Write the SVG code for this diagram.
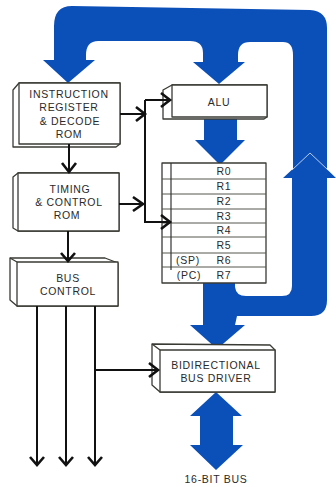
<svg xmlns="http://www.w3.org/2000/svg" width="336" height="487" viewBox="0 0 336 487">
<style>
.b{fill:#0b50b8;stroke:none}
.n{fill:#fff;stroke:#3a3a34;stroke-width:1.3;stroke-linejoin:round}
.c{fill:none;stroke:#111;stroke-width:2}
.h{fill:none;stroke:#111;stroke-width:2.6}
.r{fill:none;stroke:#55554e;stroke-width:1}
text{font-family:"Liberation Sans",Arial,sans-serif;font-size:10.5px;fill:#2a2a2a;text-anchor:middle;letter-spacing:.7px}
</style>
<rect width="336" height="487" fill="#fff"/>
<g id="buses">
<path class="b" d="M54 60V26Q54 6 72 6L310 10Q327 11 327 28V172H293V55Q293 42 283 42H250Q238 42 238 55V62H245L219 84L193 62H203V53Q203 41 190 41H100Q86 40 86 55V60H95L68 83L43 60Z"/>
<path class="b" d="M204 118H237V140H245L220 165L195 140H204Z"/>
<path class="b" d="M283 178L310 153L336 178H327V300Q327 316 311 316H237L235 325H245L217 349L190 325H203V283H235V287Q236 296 246 296H282Q292 296 292 286V178Z" stroke="#fff" style="stroke:none"/>
<path d="M292 170L310 153L328 170" fill="none" stroke="#fff" stroke-width="1" opacity=".7"/>
<path class="b" d="M216 392L242 416H233V445H243L216 470L190 445H200V416H190Z"/>
</g>
<g id="instruction-register">
<path class="n" d="M19 83L13 90V147H116L120 144V83Z"/>
<path class="n" d="M19 83H120V144H19Z"/>
<text x="69" y="98">INSTRUCTION</text>
<text x="69" y="111">REGISTER</text>
<text x="70" y="125">&amp; DECODE</text>
<text x="69" y="138">ROM</text>
</g>
<g id="alu">
<path class="n" d="M172 85L163 90V119H264L267 117V85Z"/>
<path class="n" d="M172 85H267V117H172Z"/>
<text x="219" y="106">ALU</text>
</g>
<g id="registers">
<rect class="n" x="162" y="163" width="104" height="120"/>
<path class="r" d="M162 179H266M162 194H266M162 209H266M162 223H266M162 237H266M162 253H266M162 267H266"/>
<path d="M171 163V270" stroke="#333" stroke-width="1.2"/>
<text x="224" y="175">R0</text>
<text x="224" y="190">R1</text>
<text x="224" y="205">R2</text>
<text x="224" y="220">R3</text>
<text x="224" y="234">R4</text>
<text x="224" y="249">R5</text>
<text x="224" y="264">R6</text>
<text x="224" y="279">R7</text>
<text x="188" y="264">(SP)</text>
<text x="189" y="279">(PC)</text>
</g>
<g id="timing-control">
<path class="n" d="M18 173L13 177V228L18 231H119V173Z"/>
<path class="n" d="M18 173H119V231H18Z"/>
<text x="70" y="193">TIMING</text>
<text x="69" y="206">&amp; CONTROL</text>
<text x="67" y="219">ROM</text>
</g>
<g id="bus-control">
<path class="n" d="M10 258H105L118 263V306H17L10 300Z"/>
<path class="n" d="M17 262H118V306H17Z"/>
<path class="n" d="M10 258L17 262"/>
<text x="68" y="282">BUS</text>
<text x="68" y="295">CONTROL</text>
</g>
<g id="bus-driver">
<path class="n" d="M152 344L270 345L275 350V392H160L152 385Z"/>
<path class="n" d="M160 350H275V392H160Z"/>
<path class="n" d="M152 344L160 350"/>
<text x="216" y="369">BIDIRECTIONAL</text>
<text x="216" y="382">BUS DRIVER</text>
</g>
<g id="connectors">
<path class="c" d="M120 114H145M145 100V222H170M145 100H170M119 204H145M69 144V173M68 231V262M37 306V465M66 306V465M95 306V465M96 370H158"/>
<path class="h" d="M136 107L145 114L136 121M161 93L170 100L161 107M133 197L143 204L133 211M161 215L170 222L161 229M62 163L69 172L76 163M61 253L68 261L75 253M30 457L37 465L44 457M59 457L66 465L73 457M88 457L95 465L102 457M149 363L158 370L149 377"/>
</g>
<text x="216" y="483">16-BIT BUS</text>
</svg>
